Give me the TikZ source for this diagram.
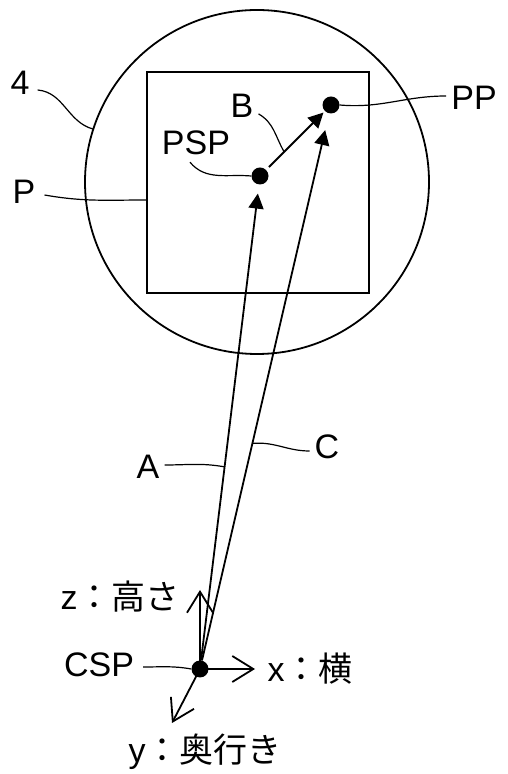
\documentclass[tikz,border=0pt]{standalone}
\usepackage{fontspec}
\setmainfont{Liberation Sans}
\newfontfamily\jpfont{Noto Sans CJK JP}
\usetikzlibrary{calc, arrows.meta}
\tikzset{
	labeltext/.style={font=\fontsize{34}{40}\selectfont, inner sep=0pt}
}
\tikzset{
	leader/.style={line width=1.2pt},
	vec/.style={line width=1.8pt, -{Triangle[length=15pt,width=15pt]}},
	axis/.style={line width=1.8pt, -{Straight Barb[length=21pt,width=26pt]}},
	dot/.style={circle, fill, inner sep=0pt, minimum size=17pt}
}
\newcommand{\jp}[1]{{\jpfont #1}}

\begin{document}
\begin{tikzpicture}[x=1pt, y=1pt]
      \useasboundingbox (0,0) rectangle (508,774);
      % screen 4 and the picture P on it
      \draw[line width=1.8pt] (257,592) circle (172pt);
      \draw[line width=1.8pt] (147,481) rectangle (369,702);
      \coordinate (rim4) at (93,645);
      \coordinate (edgep) at (147,574);
      % points
      \node[dot] (pp) at (331,669) {};
      \node[dot] (psp) at (260,598) {};
      \node[dot] (csp) at (200,105) {};
      % vectors A, B, C
      \draw[vec, shorten >=9pt] (csp) -- (psp);
      \draw[vec, shorten >=17pt] (csp) -- (pp);
      \draw[vec, shorten <=4pt, shorten >=2pt] (psp) -- (pp);
      \coordinate (ona) at ($(csp)!0.41!(psp)$);
      \coordinate (onc) at ($(csp)!0.40!(pp)$);
      \coordinate (onb) at ($(psp)!0.34!(pp)$);
      % camera axes
      \coordinate (zend) at (200,184);
      \coordinate (xend) at (255,105);
      \coordinate (yend) at (172,51);
      \draw[axis] (csp.center) -- (zend);
      \draw[axis] (csp.center) -- (xend);
      \draw[axis] (csp.center) -- (yend);
      % labels
      \node[labeltext] (lab4) at (20,691) {4};
      \node[labeltext] (labpp) at (474,676) {PP};
      \node[labeltext] (labb) at (242,668) {B};
      \node[labeltext] (labpsp) at (196,631) {PSP};
      \node[labeltext] (labp) at (24,582) {P};
      \node[labeltext] (laba) at (148,307) {A};
      \node[labeltext] (labc) at (327,327) {C};
      \node[labeltext] (labcsp) at (99,109) {CSP};
      \node[labeltext] (labz) at (120,177) {z\jp{：高さ}};
      \node[labeltext] (labx) at (310,105) {x\jp{：横}};
      \node[labeltext] (laby) at (205,22) {y\jp{：奥行き}};
      % leader lines
      \draw[leader] ([shift={(8,-7)}]lab4.east) to[out=-5, in=165] (rim4);
      \draw[leader] (pp.east) to[out=-5, in=180] ([xshift=-5pt,yshift=2pt]labpp.west);
      \draw[leader] ([shift={(5,4)}]labb.south east) to[out=-30, in=120] (onb);
      \draw[leader] ([shift={(-6,-7)}]labpsp.south) to[out=-50, in=175] (psp.west);
      \draw[leader] ([shift={(9,-3)}]labp.east) to[out=-10, in=180] (edgep);
      \draw[leader] ([xshift=5pt,yshift=2pt]laba.east) to[out=0, in=170] (ona);
      \draw[leader] (onc) to[out=5, in=180] ([xshift=-5pt,yshift=-4pt]labc.west);
      \draw[leader] ([xshift=9pt,yshift=-2pt]labcsp.east) to[out=0, in=170] (csp.west);
\end{tikzpicture}
\end{document}
